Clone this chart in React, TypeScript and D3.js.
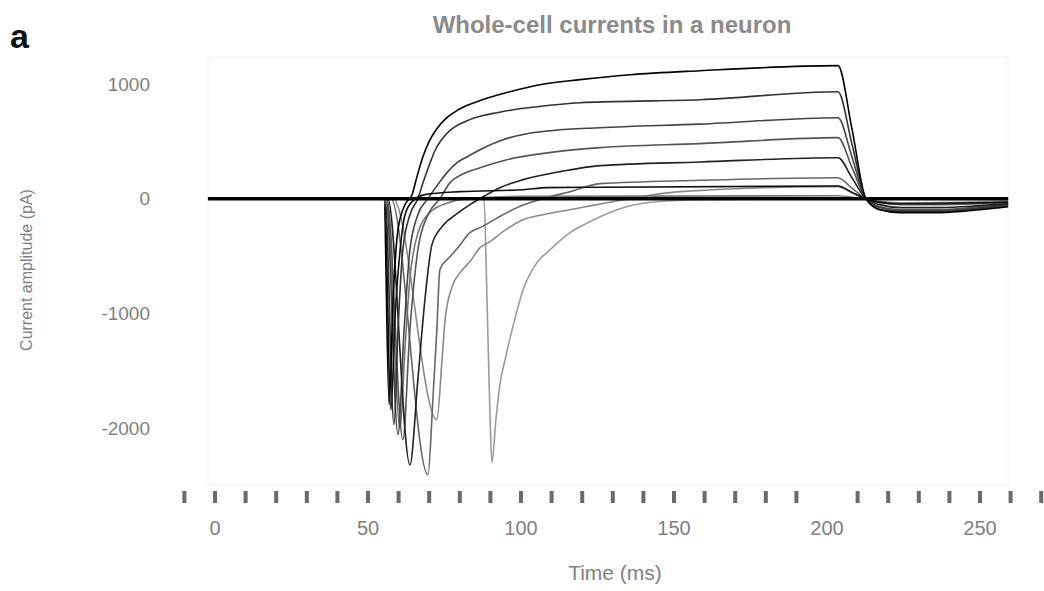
import React from "react";
import * as d3 from "d3";

type Pt = [number, number];

// Axis values
const xMajorTicks = [0, 50, 100, 150, 200, 250];
const xMinorTicks = [-10, 0, 10, 20, 30, 40, 50, 60, 70, 80, 90, 100, 110, 120, 130, 140, 150, 160, 170, 180, 190, 210, 220, 230, 240, 250, 260, 270];
const yTicks = [1000, 0, -1000, -2000];
const yTickLabels = ["1000", "0", "-1000", "-2000"];

const title = "Whole-cell currents in a neuron";
const xTitle = "Time (ms)";
const yTitle = "Current amplitude (pA)";

// Sweeps: [time ms, current pA]
const sweep1: Pt[] = [[-2.3, 0], [55.2, 0], [56.9, -1796], [58.2, -881], [59.8, -270], [62.1, -52], [64.4, 35], [66.0, 192], [68.0, 370], [70.0, 500], [72.5, 610], [75.5, 700], [79.5, 775], [85.6, 846], [96.4, 933], [106.2, 994], [119.3, 1038], [135.6, 1081], [158.5, 1116], [203.6, 1160], [208.2, 602], [212.7, 0], [217.3, -96], [223.9, -122], [236.9, -122], [250, -96], [259.2, -70]];
const sweep2: Pt[] = [[-2.3, 0], [55.6, 0], [58.5, -1971], [59.8, -1142], [61.4, -445], [63.7, -140], [66.3, 0], [68.0, 140], [70.3, 314], [71.9, 420], [74.2, 520], [77.5, 610], [82.4, 680], [87.6, 725], [92.2, 750], [97.4, 776], [105.2, 802], [119.3, 837], [130.1, 846], [158.5, 863], [203.6, 933], [208.2, 470], [212.7, 0], [217.3, -96], [223.9, -113], [236.9, -113], [250, -87], [259.2, -61]];
const sweep3: Pt[] = [[-2.3, 0], [55.9, 0], [59.8, -2058], [61.8, -1142], [63.7, -445], [66.3, -140], [69.6, 0], [73.5, 148], [75.8, 227], [79.1, 314], [82.4, 366], [86.6, 427], [94.1, 514], [100.7, 560], [110.5, 595], [125.8, 619], [158.5, 650], [203.6, 706], [208.2, 360], [212.7, 0], [217.3, -78], [223.9, -105], [236.9, -105], [250, -78], [259.2, -52]];
const sweep4: Pt[] = [[-2.3, 0], [56.2, 0], [61.4, -2102], [63.7, -1142], [66.3, -445], [69.6, -140], [73.5, 0], [76.8, 140], [81.0, 215], [86.6, 270], [95.4, 340], [111.8, 410], [125.8, 445], [158.5, 480], [203.6, 532], [208.2, 270], [212.7, 0], [217.3, -70], [223.9, -96], [236.9, -96], [250, -70], [259.2, -44]];
const sweep5: Pt[] = [[-2.3, 0], [56.5, 0], [63.7, -2320], [66.3, -1578], [68.6, -881], [70.9, -401], [74.2, -244], [79.1, -131], [83.3, -52], [88.2, 26], [93.1, 96], [100.7, 166], [112.7, 235], [125.8, 288], [158.5, 320], [203.6, 357], [208.2, 180], [212.7, 0], [217.3, -52], [223.9, -78], [236.9, -78], [250, -61], [259.2, -44]];
const sweep6: Pt[] = [[-2.3, 0], [57.5, 0], [69.6, -2407], [71.2, -1753], [72.5, -1142], [73.5, -619], [76.8, -506], [79.4, -427], [83.3, -296], [87.3, -244], [94.1, -140], [98.7, -78], [107.2, 0], [116.0, 61], [125.8, 131], [158.5, 160], [203.6, 183], [208.2, 90], [212.7, 0], [217.3, -35], [223.9, -52], [236.9, -52], [250, -44], [259.2, -35]];
const sweep7: Pt[] = [[-2.3, 0], [58.2, 0], [72.5, -1927], [74.2, -1404], [75.2, -1055], [77.5, -767], [80.1, -645], [83.3, -549], [86.6, -427], [89.9, -375], [94.1, -288], [100.7, -183], [107.2, -140], [116.0, -96], [124.8, -52], [135.6, 0], [152.0, 61], [203.6, 105], [208.2, 50], [212.7, 0], [217.3, -26], [223.9, -35], [259.2, -26]];
const sweep8: Pt[] = [[-2.3, 0], [87.9, 0], [88.9, -881], [89.9, -1927], [90.5, -2302], [91.8, -1927], [93.1, -1622], [94.8, -1404], [97.1, -1142], [100.7, -794], [105.2, -558], [109.5, -445], [116.0, -296], [122.5, -201], [131.4, -96], [141.2, -35], [158.5, -9], [203.6, 0], [259.2, 0]];
const sweep9: Pt[] = [[-2.3, 0], [55.4, 0], [57.5, -1840], [58.8, -1055], [60.5, -445], [62.1, -140], [64.4, -26], [68.6, 35], [80.0, 61], [100.7, 78], [108.5, 96], [125.8, 100], [203.6, 110], [208.2, 55], [212.7, 0], [217.3, -30], [223.9, -44], [259.2, -30]];
const sweep10: Pt[] = [[-2.3, 0], [56.0, 0], [60.5, -2000], [62.1, -1300], [63.7, -700], [66.3, -300], [70.3, -120], [75.8, -40], [82.4, 0], [100.0, 20], [203.6, 26], [212.7, 0], [259.2, -10]];
const baselineSweep: Pt[] = [[-2.3, 0], [259.2, 0]];

const sweeps: Pt[][] = [sweep8, sweep7, sweep10, sweep6, sweep4, sweep3, sweep5, sweep2, sweep9, sweep1];
const sweepColors = ["#9a9a9a", "#8a8a8a", "#777777", "#666666", "#555555", "#444444", "#222222", "#333333", "#111111", "#000000"];

export default function App() {
  const W = 1044;
  const H = 591;
  const x = d3.scaleLinear().domain([0, 250]).range([215, 980]);
  const y = d3.scaleLinear().domain([-2000, 1000]).range([428, 84]);
  const line = d3
    .line<Pt>()
    .x((d) => x(d[0]))
    .y((d) => y(d[1]))
    .curve(d3.curveMonotoneX);

  const font = "'Liberation Sans', Arial, sans-serif";
  const plotLeft = x(-2.3);
  const plotRight = x(259.2);

  return (
    <svg
      width={W}
      height={H}
      style={{ position: "absolute", left: 0, top: 0, display: "block", background: "#fff" }}
      fontFamily={font}
    >
      <rect x={plotLeft} y={57} width={plotRight - plotLeft} height={428} fill="none" stroke="#f0f0f0" strokeWidth={1} />

      <text x={10} y={48} fontSize={34} fontWeight="bold" fill="#111">a</text>
      <text x={612} y={33} fontSize={24} fontWeight="bold" fill="#8a8a8a" textAnchor="middle">{title}</text>

      {yTicks.map((v, i) => (
        <text key={"yt" + i} x={150} y={y(v)} dy="0.35em" fontSize={19} fill="#808080" textAnchor="end">
          {yTickLabels[i]}
        </text>
      ))}
      <text
        transform={`translate(26, ${270}) rotate(-90)`}
        fontSize={16}
        fill="#808080"
        textAnchor="middle"
        dy="0.35em"
      >
        {yTitle}
      </text>

      {xMinorTicks.map((t, i) => (
        <line key={"xm" + i} x1={x(t)} x2={x(t)} y1={491} y2={503} stroke="#6a6a6a" strokeWidth={4} />
      ))}
      {xMajorTicks.map((t, i) => (
        <text key={"xl" + i} x={x(t)} y={528} dy="0.35em" fontSize={20} fill="#808080" textAnchor="middle">
          {t}
        </text>
      ))}
      <text x={615} y={573} dy="0.35em" fontSize={21} fill="#808080" textAnchor="middle">{xTitle}</text>

      {sweeps.map((s, i) => (
        <path key={"s" + i} d={line(s) || ""} fill="none" stroke={sweepColors[i]} strokeWidth={1.6} strokeLinejoin="round" />
      ))}
      <path d={line(baselineSweep) || ""} fill="none" stroke="#000" strokeWidth={3.5} />
    </svg>
  );
}
